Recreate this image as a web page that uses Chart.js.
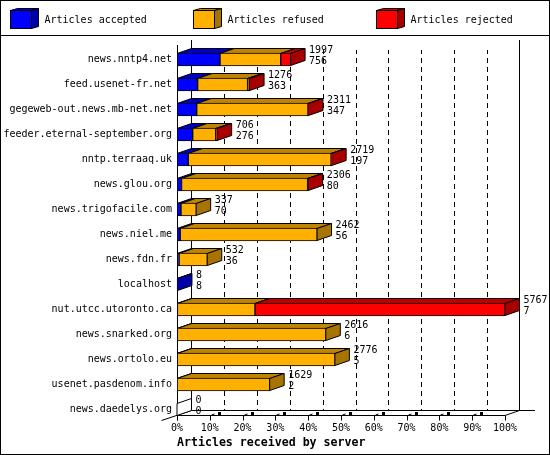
<!DOCTYPE html>
<html>
<head>
<meta charset="utf-8">
<style>html,body{margin:0;padding:0;background:#fff}canvas{display:block}</style>
<script src="https://cdn.jsdelivr.net/npm/chart.js@4/dist/chart.umd.min.js"></script>
</head>
<body>
<canvas id="c" width="550" height="455"></canvas>
<script>
const servers = ["news.nntp4.net","feed.usenet-fr.net","gegeweb-out.news.mb-net.net","feeder.eternal-september.org","nntp.terraaq.uk","news.glou.org","news.trigofacile.com","news.niel.me","news.fdn.fr","localhost","nut.utcc.utoronto.ca","news.snarked.org","news.ortolo.eu","usenet.pasdenom.info","news.daedelys.org"];
const totals = [1997,1276,2311,706,2719,2306,337,2462,532,8,5767,2616,2776,1629,0];
const accepted = [756,363,347,276,197,80,70,56,36,8,7,6,5,2,0];
const refused = [1067,878,1956,405,2512,2216,267,2406,496,0,1364,2610,2771,1627,0];
const rejected = [174,35,8,25,10,10,0,0,0,0,4396,0,0,0,0];
const seriesNames = ["Articles accepted","Articles refused","Articles rejected"];
const xTitle = "Articles received by server";
const fullScale = 5767;

const front = ["#0000ff","#ffb000","#ff0000"];
const topFace = ["#0000bf","#bf8400","#bf0000"];
const sideFace = ["#0000a8","#a87400","#a80000"];
const DX = 14.5, DY = 5;
const MONO = "'DejaVu Sans Mono', monospace";

const pct = a => a.map(v => v > 0 ? v / fullScale * 100 : null);

function poly(ctx, pts, fill) {
  ctx.beginPath();
  pts.forEach((p, i) => i ? ctx.lineTo(p[0], p[1]) : ctx.moveTo(p[0], p[1]));
  ctx.closePath();
  ctx.fillStyle = fill;
  ctx.fill();
  ctx.stroke();
}
function seg(ctx, x0, y0, x1, y1) {
  ctx.beginPath(); ctx.moveTo(x0, y0); ctx.lineTo(x1, y1); ctx.stroke();
}

const depth3d = {
  id: "depth3d",
  beforeDatasetsDraw(chart) {
    const ctx = chart.ctx, xs = chart.scales.x, ys = chart.scales.y;
    const L = Math.round(xs.getPixelForValue(0));
    const R = Math.round(xs.getPixelForValue(100));
    const bottom = ys.getPixelForValue(servers.length - 1) + 6;
    const frontTop = chart.chartArea.top - 2;
    const backTop = frontTop - 5;
    const backBottom = bottom - 5;
    ctx.save();
    ctx.strokeStyle = "#000";
    ctx.lineWidth = 1;
    // dashed back grid
    ctx.setLineDash([5, 4]);
    ctx.lineDashOffset = 1;
    for (let t = 10; t < 100; t += 10) {
      const x = Math.round(xs.getPixelForValue(t) + DX) + 0.5;
      seg(ctx, x, 50, x, backBottom);
    }
    ctx.setLineDash([]);
    // walls and floor
    seg(ctx, L + 14.5, backTop, L + 14.5, backBottom);
    seg(ctx, R + 14.5, backTop, R + 14.5, backBottom);
    seg(ctx, L + 0.5, frontTop, L + 0.5, bottom + 5);
    seg(ctx, L + 14.5, backBottom, 535, backBottom);
    seg(ctx, L, bottom, R, bottom);
    seg(ctx, 161.5, bottom + 5, L + 14.5, backBottom);
    seg(ctx, R, bottom, R + 14.5, backBottom);
    // front ticks and floor marks
    for (let t = 0; t <= 100; t += 10) {
      const x = Math.round(xs.getPixelForValue(t)) + 0.5;
      seg(ctx, x, bottom, x, bottom + 5);
      if (t < 100 && t > 0) {
        seg(ctx, x + 1, bottom - 0.5, x + 4, bottom - 1.5);
        ctx.fillStyle = "#000";
        ctx.fillRect(x + 7.5, bottom - 3.5, 3, 3);
      }
    }
    // top and side faces of the bars
    const sets = [accepted, refused, rejected];
    servers.forEach((_, i) => {
      const c = ys.getPixelForValue(i);
      const y0 = Math.floor(c - 6) + 0.5, y1 = y0 + 12;
      let cum = 0, lastX = xs.getPixelForValue(0), lastS = -1;
      sets.forEach((arr, s) => {
        if (arr[i] <= 0) return;
        const x0 = xs.getPixelForValue(cum / fullScale * 100);
        cum += arr[i];
        const x1 = xs.getPixelForValue(cum / fullScale * 100);
        poly(ctx, [[x0, y0], [x0 + DX, y0 - DY], [x1 + DX, y0 - DY], [x1, y0]], topFace[s]);
        lastX = x1; lastS = s;
      });
      poly(ctx, [[lastX, y0], [lastX + DX, y0 - DY], [lastX + DX, y1 - DY], [lastX, y1]],
        lastS >= 0 ? sideFace[lastS] : "#fff");
    });
    ctx.restore();
  },
  afterDatasetsDraw(chart) {
    const ctx = chart.ctx, xs = chart.scales.x, ys = chart.scales.y;
    ctx.save();
    ctx.fillStyle = "#000";
    ctx.font = "10px " + MONO;
    ctx.textAlign = "left";
    ctx.textBaseline = "middle";
    servers.forEach((_, i) => {
      const c = ys.getPixelForValue(i);
      const x = xs.getPixelForValue(totals[i] / fullScale * 100) + DX + 4;
      ctx.fillText(String(totals[i]), x, c - 9);
      ctx.fillText(String(accepted[i]), x, c + 2);
    });
    ctx.restore();
  },
  afterDraw(chart) {
    const ctx = chart.ctx;
    ctx.save();
    ctx.strokeStyle = "#000";
    ctx.lineWidth = 1;
    ctx.strokeRect(0.5, 0.5, 549, 454);
    seg(ctx, 0, 35.5, 550, 35.5);
    const lx = [10.5, 193.5, 376.5];
    ctx.font = "10px " + MONO;
    ctx.textAlign = "left";
    ctx.textBaseline = "middle";
    seriesNames.forEach((name, s) => {
      const x = lx[s], y = 10.5, w = 21, h = 18, dx = 7, dy = 2;
      poly(ctx, [[x, y], [x + dx, y - dy], [x + w + dx, y - dy], [x + w, y]], topFace[s]);
      poly(ctx, [[x + w, y], [x + w + dx, y - dy], [x + w + dx, y + h - dy], [x + w, y + h]], sideFace[s]);
      ctx.fillStyle = front[s];
      ctx.fillRect(x, y, w, h);
      ctx.strokeRect(x, y, w, h);
      ctx.fillStyle = "#000";
      ctx.fillText(name, x + w + dx + 6, 20);
    });
    ctx.restore();
  }
};

new Chart(document.getElementById("c"), {
  type: "bar",
  data: {
    labels: servers,
    datasets: [accepted, refused, rejected].map((arr, s) => ({
      label: seriesNames[s],
      data: pct(arr),
      backgroundColor: front[s],
      borderColor: "#000",
      borderWidth: 1,
      borderSkipped: false,
      barThickness: 13
    }))
  },
  options: {
    indexAxis: "y",
    responsive: false,
    animation: false,
    devicePixelRatio: 1,
    layout: { padding: { top: 47, right: 45, left: 0, bottom: 0 } },
    plugins: { legend: { display: false }, title: { display: false }, tooltip: { enabled: false } },
    scales: {
      x: {
        stacked: true,
        min: 0,
        max: 100,
        grid: { display: false, drawTicks: false },
        border: { display: false },
        afterFit: s => { s.height = 33; },
        ticks: {
          stepSize: 10,
          autoSkip: false,
          maxRotation: 0,
          padding: 0,
          color: "#000",
          font: { family: MONO, size: 10 },
          callback: v => v + "%"
        },
        title: {
          display: true,
          text: xTitle,
          align: "start",
          color: "#000",
          font: { family: MONO, size: 11.6, weight: "bold" },
          padding: { top: 0, bottom: 5 }
        }
      },
      y: {
        stacked: true,
        grid: { display: false, drawTicks: false },
        border: { display: false },
        afterFit: s => { s.width = 177; },
        ticks: {
          autoSkip: false,
          padding: 5,
          color: "#000",
          font: { family: MONO, size: 10 }
        }
      }
    }
  },
  plugins: [depth3d]
});
</script>
</body>
</html>
